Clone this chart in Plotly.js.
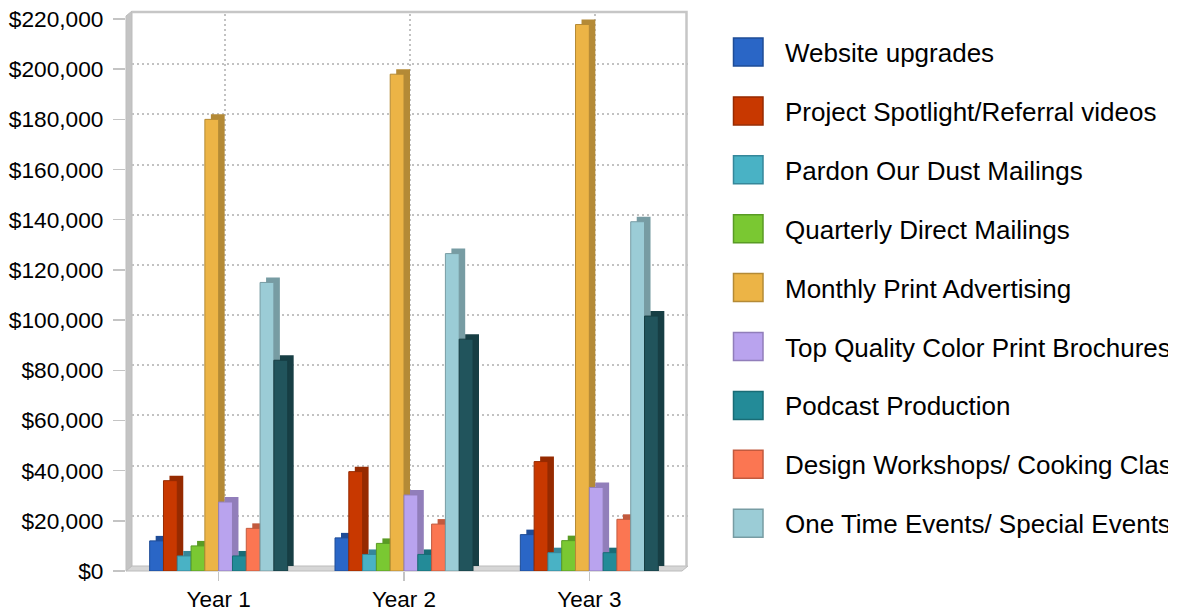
<!DOCTYPE html>
<html>
<head>
<meta charset="utf-8">
<script src="https://cdn.plot.ly/plotly-3.0.1.min.js"></script>
<style>
  html, body { margin: 0; padding: 0; background: #ffffff; overflow: hidden; }
  #chart { width: 1168px; height: 615px; }
</style>
</head>
<body>
<div id="chart"></div>
<script>
// ---------------- data ----------------
const categories = ['Year 1', 'Year 2', 'Year 3'];

const websiteUpgrades        = [12000, 13200, 14500];
const projectSpotlight       = [36000, 39600, 43600];
const pardonOurDust          = [6000, 6600, 7300];
const quarterlyDirect        = [10000, 11000, 12100];
const monthlyPrint           = [180000, 198000, 217800];
const topQualityBrochures    = [27500, 30300, 33300];
const podcastProduction      = [6000, 6600, 7300];
const designWorkshops        = [17000, 18700, 20600];
const oneTimeEvents          = [115000, 126500, 139200];
const additionalSeries       = [84000, 92400, 101600];

const seriesNames = [
  'Website upgrades',
  'Project Spotlight/Referral videos',
  'Pardon Our Dust Mailings',
  'Quarterly Direct Mailings',
  'Monthly Print Advertising',
  'Top Quality Color Print Brochures',
  'Podcast Production',
  'Design Workshops/ Cooking Classes',
  'One Time Events/ Special Events',
  'Other Marketing'
];
const seriesValues = [
  websiteUpgrades, projectSpotlight, pardonOurDust, quarterlyDirect, monthlyPrint,
  topQualityBrochures, podcastProduction, designWorkshops, oneTimeEvents, additionalSeries
];

// ---------------- styles ----------------
const frontColors = ['#2A66C6', '#C83800', '#49B2C5', '#7AC832', '#ECB446',
                     '#B9A3EE', '#238B98', '#FB7652', '#9BCCD6', '#21545C'];
const sideColors  = ['#1E4C97', '#962A00', '#35879A', '#599B24', '#B48A36',
                     '#917EBA', '#196C76', '#C25A3E', '#779CA3', '#173E44'];
const legendRows = 9;

const W = 1168, H = 615;
const L = 126, R = W - 688, T = 11, B = 44;
const paperW = W - L - R, paperH = H - T - B;
const px = x => (x - L) / paperW;
const py = y => (H - B - y) / paperH;

const frontPlotW = 556, frontPlotH = 552;
const catPx = frontPlotW / categories.length;
const barPx = 13.8;
const depthX = 6, depthY = 5;
const yMax = 220000;
const unitsPerPx = yMax / frontPlotH;
const barW = barPx / catPx;
const nSeries = seriesValues.length;

const font = 'Liberation Sans, Arial, sans-serif';

const traces = [];
// dummy trace so the back-wall subplot exists
traces.push({
  type: 'scatter', x: categories, y: [null, null, null], xaxis: 'x', yaxis: 'y',
  mode: 'markers', hoverinfo: 'skip', showlegend: false
});

for (let i = 0; i < nSeries; i++) {
  const off = -nSeries / 2 * barW + i * barW;
  // depth (side + top) of the 3D column
  traces.push({
    type: 'bar', x: categories, y: seriesValues[i],
    base: seriesValues[i].map(() => depthY * unitsPerPx),
    xaxis: 'x2', yaxis: 'y2',
    offset: off + depthX / catPx, width: barW,
    marker: { color: sideColors[i], line: { color: sideColors[i], width: 0 } },
    hoverinfo: 'skip', showlegend: false
  });
  // front face
  traces.push({
    type: 'bar', x: categories, y: seriesValues[i], name: seriesNames[i],
    xaxis: 'x2', yaxis: 'y2',
    offset: off, width: barW,
    marker: { color: frontColors[i], line: { color: sideColors[i], width: 1 } },
    showlegend: false
  });
}

// walls, floor and legend
const shapes = [
  { type: 'path', xref: 'paper', yref: 'paper', layer: 'below',
    path: `M${px(126)},${py(571)} L${px(126)},${py(16)} L${px(132)},${py(11)} L${px(132)},${py(566)} Z`,
    fillcolor: '#c4c4c4', line: { color: '#bdbdbd', width: 1 } },
  { type: 'path', xref: 'paper', yref: 'paper', layer: 'below',
    path: `M${px(126)},${py(571)} L${px(682)},${py(571)} L${px(688)},${py(566)} L${px(132)},${py(566)} Z`,
    fillcolor: '#d6d6d6', line: { color: '#bcbcbc', width: 1 } },
  { type: 'path', xref: 'paper', yref: 'paper', layer: 'below',
    path: `M${px(132)},${py(12)} L${px(686.5)},${py(12)} L${px(686.5)},${py(566)}`,
    line: { color: '#c6c6c6', width: 2.5 } }
];
const annotations = [];
const legTop = 52, legStep = 58.9;
for (let i = 0; i < legendRows; i++) {
  const cy = legTop + i * legStep;
  shapes.push({
    type: 'rect', xref: 'paper', yref: 'paper', layer: 'above',
    x0: px(733.5), x1: px(763), y0: py(cy - 14), y1: py(cy + 14),
    fillcolor: frontColors[i], line: { color: sideColors[i], width: 1.5 }
  });
  annotations.push({
    xref: 'paper', yref: 'paper', x: px(783), y: py(cy + 1),
    xanchor: 'left', yanchor: 'middle', showarrow: false,
    text: seriesNames[i], font: { family: font, size: 26, color: '#000000' }
  });
}

const gridStyle = { showgrid: true, gridcolor: '#c2c2c2', gridwidth: 2, griddash: '2px,3px' };

const layout = {
  width: W, height: H,
  margin: { l: L, r: R, t: T, b: B, pad: 0 },
  paper_bgcolor: '#ffffff', plot_bgcolor: 'rgba(0,0,0,0)',
  showlegend: false, barmode: 'overlay',
  font: { family: font, color: '#000000' },
  // back wall (gridlines)
  xaxis: Object.assign({ type: 'category', range: [-0.5, 2.5], domain: [6 / paperW, 1],
    anchor: 'y', showticklabels: false, ticks: '', zeroline: false, showline: false,
    fixedrange: true }, gridStyle),
  yaxis: Object.assign({ range: [0, yMax], dtick: 20000, domain: [5 / paperH, (5 + frontPlotH) / paperH],
    anchor: 'x', showticklabels: false, ticks: '', zeroline: false, showline: false,
    fixedrange: true }, gridStyle),
  // front plane (bars, labels)
  xaxis2: { type: 'category', range: [-0.5, 2.5], domain: [0, frontPlotW / paperW], anchor: 'y2',
    showgrid: false, zeroline: false, showline: false,
    ticks: 'outside', ticklen: 9, tickcolor: '#c4c4c4', tickwidth: 1.5,
    ticklabelstandoff: -1,
    tickfont: { family: font, size: 22.5, color: '#000000' }, fixedrange: true },
  yaxis2: { range: [0, yMax], dtick: 20000, tickformat: '$,.0f', domain: [0, frontPlotH / paperH],
    anchor: 'x2', showgrid: false, zeroline: false, showline: false,
    ticks: 'outside', ticklen: 12, tickcolor: '#c4c4c4', tickwidth: 1.5,
    ticklabelstandoff: 5,
    tickfont: { family: font, size: 22.7, color: '#000000' }, fixedrange: true },
  shapes: shapes,
  annotations: annotations
};

Plotly.newPlot('chart', traces, layout, { displayModeBar: false, staticPlot: true });
</script>
</body>
</html>
